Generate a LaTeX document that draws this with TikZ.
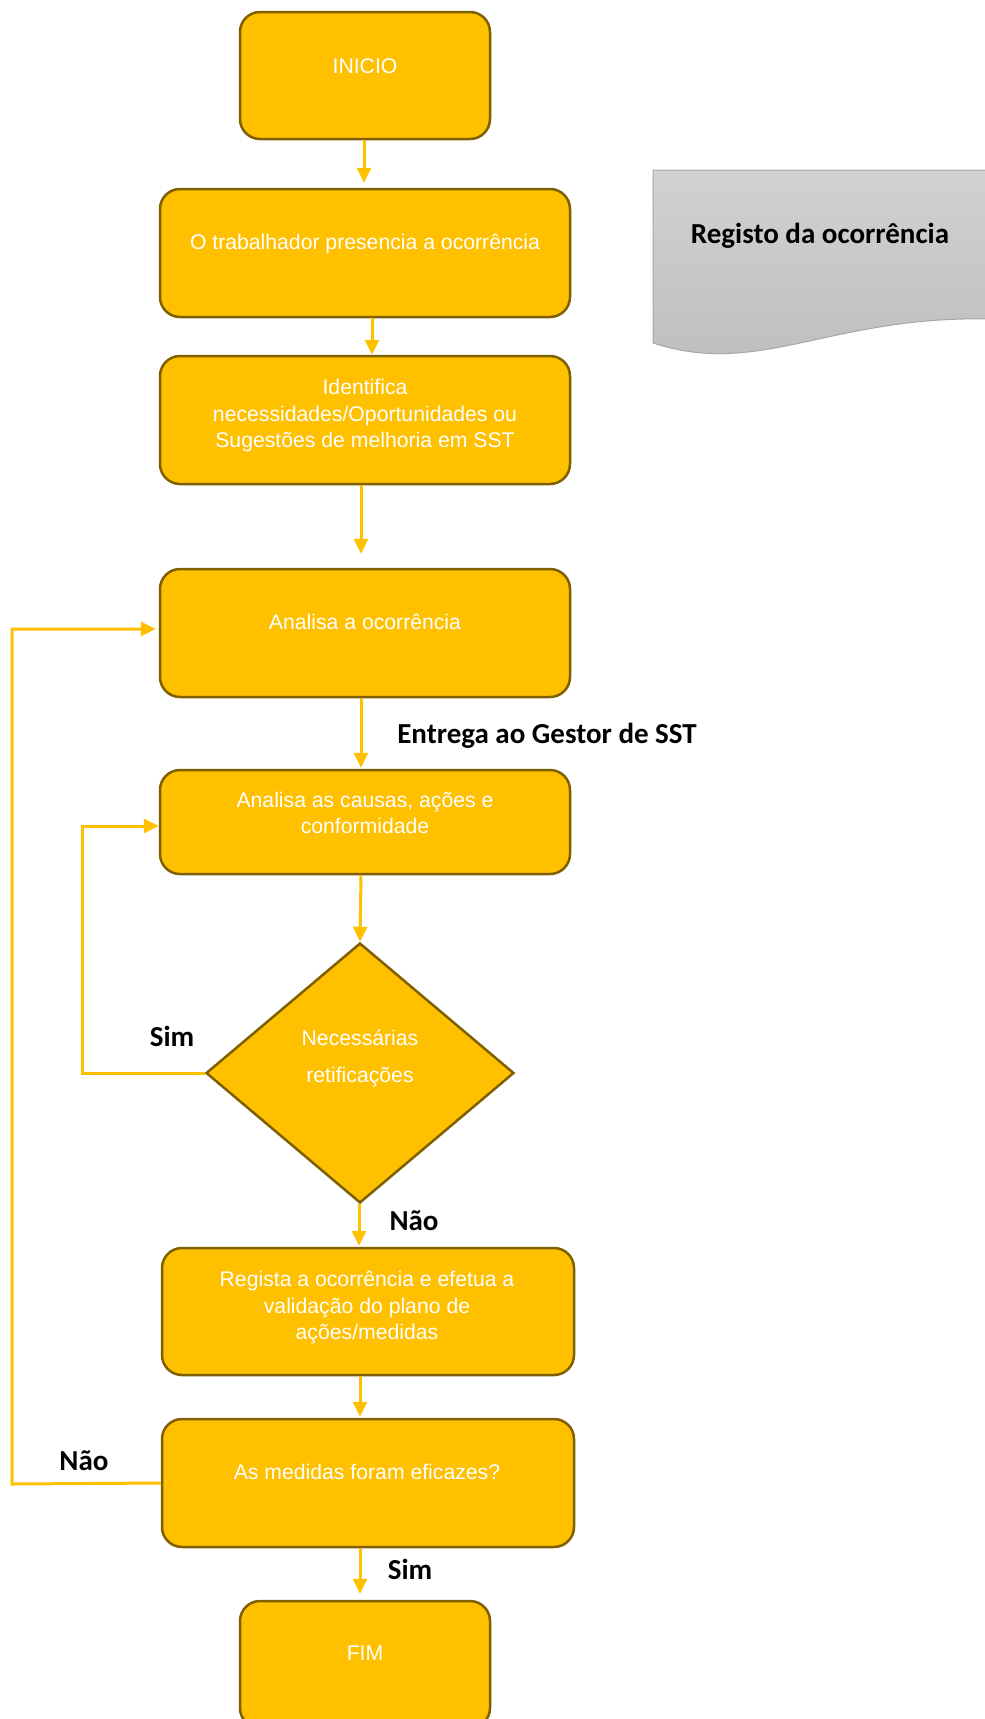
\documentclass[tikz,border=0pt]{standalone}
\usepackage{fontspec}
\setmainfont{Liberation Sans}
\newfontfamily\lblfont{Carlito}
\usetikzlibrary{shapes.geometric,arrows.meta}
\definecolor{amber}{HTML}{FFC000}
\definecolor{brownb}{HTML}{7F6000}
\definecolor{gtop}{HTML}{D2D2D2}
\definecolor{gbot}{HTML}{BDBDBD}
\definecolor{gline}{HTML}{A6A6A6}
\tikzset{
  procbox/.style={draw=brownb, fill=amber, line width=2.5pt, rounded corners=20pt, inner sep=0pt},
  decbox/.style={diamond, draw=brownb, fill=amber, line width=2.5pt, inner sep=0pt},
  boxtext/.style={text=white, align=center, inner sep=0pt, font=\fontsize{21.2}{26.5}\selectfont},
  lbl/.style={text=black, inner sep=0pt, font=\lblfont\bfseries\fontsize{29}{34}\selectfont},
  conn/.style={draw=amber, line width=3pt, -{Triangle[length=15pt,width=14pt]}},
  loopline/.style={draw=amber, line width=3pt}
}
\begin{document}
\begin{tikzpicture}[x=1pt,y=1pt]
\useasboundingbox (0,0) rectangle (985,-1719);
\clip (0,0) rectangle (985,-1719);
\fill[white] (0,0) rectangle (985,-1719);

% document shape
\path[draw=gline, line width=1pt, top color=gtop, bottom color=gbot]
  (653,-170) -- (992,-170) -- (992,-319)
  .. controls (830,-315) and (760,-378) .. (653,-343) -- cycle;
\node[lbl] (doc) at (820,-236) {Registo da ocorrência};

% boxes
\node[procbox, minimum width=250pt, minimum height=127pt] (b1) at (365,-75.5) {};
\node[procbox, minimum width=410pt, minimum height=128pt] (b2) at (365,-253) {};
\node[procbox, minimum width=410pt, minimum height=128pt] (b3) at (365,-420) {};
\node[procbox, minimum width=410pt, minimum height=128pt] (b4) at (365,-633) {};
\node[procbox, minimum width=410pt, minimum height=104pt] (b5) at (365,-822) {};
\node[decbox, minimum width=308pt, minimum height=260pt] (d) at (360,-1073) {};
\node[procbox, minimum width=412pt, minimum height=127pt] (b6) at (368,-1311.5) {};
\node[procbox, minimum width=412pt, minimum height=128pt] (b7) at (368,-1483) {};
\node[procbox, minimum width=250pt, minimum height=127pt] (b8) at (365,-1664.5) {};

% texts
\node[boxtext] (t1) at (365,-66) {INICIO};
\node[boxtext] (t2) at (365,-244) {O trabalhador presencia a ocorrência};
\node[boxtext] (t3) at (365,-416) {Identifica\\necessidades/Oportunidades ou\\Sugestões de melhoria em SST};
\node[boxtext] (t4) at (365,-622) {Analisa a ocorrência};
\node[boxtext] (t5) at (365,-813) {Analisa as causas, ações e\\conformidade};
\node[boxtext, font=\fontsize{21.2}{37}\selectfont] (td) at (360,-1058) {Necessárias\\retificações};
\node[boxtext] (t6) at (367,-1308) {Regista a ocorrência e efetua a\\validação do plano de\\ações/medidas};
\node[boxtext] (t7) at (367,-1472) {As medidas foram eficazes?};
\node[boxtext] (t8) at (365,-1653) {FIM};

% labels
\node[lbl] (l1) at (547,-736) {Entrega ao Gestor de SST};
\node[lbl] (l2) at (172,-1036) {Sim};
\node[lbl] (l3) at (414,-1221) {Não};
\node[lbl] (l4) at (84,-1461) {Não};
\node[lbl] (l5) at (410,-1569) {Sim};

% connectors
\coordinate (s1) at (82,-1073);
\coordinate (n1) at (12,-1484);
\draw[conn] ([xshift=-1]b1.south) -- ([xshift=-1,yshift=5]b2.north);
\draw[conn] ([xshift=7]b2.south) -- ([xshift=7]b3.north);
\draw[conn] ([xshift=-4]b3.south) -- ([xshift=-4,yshift=14]b4.north);
\draw[conn] ([xshift=-4]b4.south) -- ([xshift=-4,yshift=1]b5.north);
\draw[conn] ([xshift=-4]b5.south) -- (d.north);
\draw[conn] (d.west) -- (s1) |- ([yshift=-4]b5.west);
\draw[conn] ([xshift=-1]d.south) -- ([xshift=-1,yshift=1]d.south |- b6.north);
\draw[conn] (b6.south -| d.south) -- ([yshift=1]b7.north -| d.south);
\draw[conn] (b7.west) -- (n1) |- ([yshift=4,xshift=-3]b4.west);
\draw[conn] (b7.south -| d.south) -- ([yshift=6]b8.north -| d.south);
\end{tikzpicture}
\end{document}
